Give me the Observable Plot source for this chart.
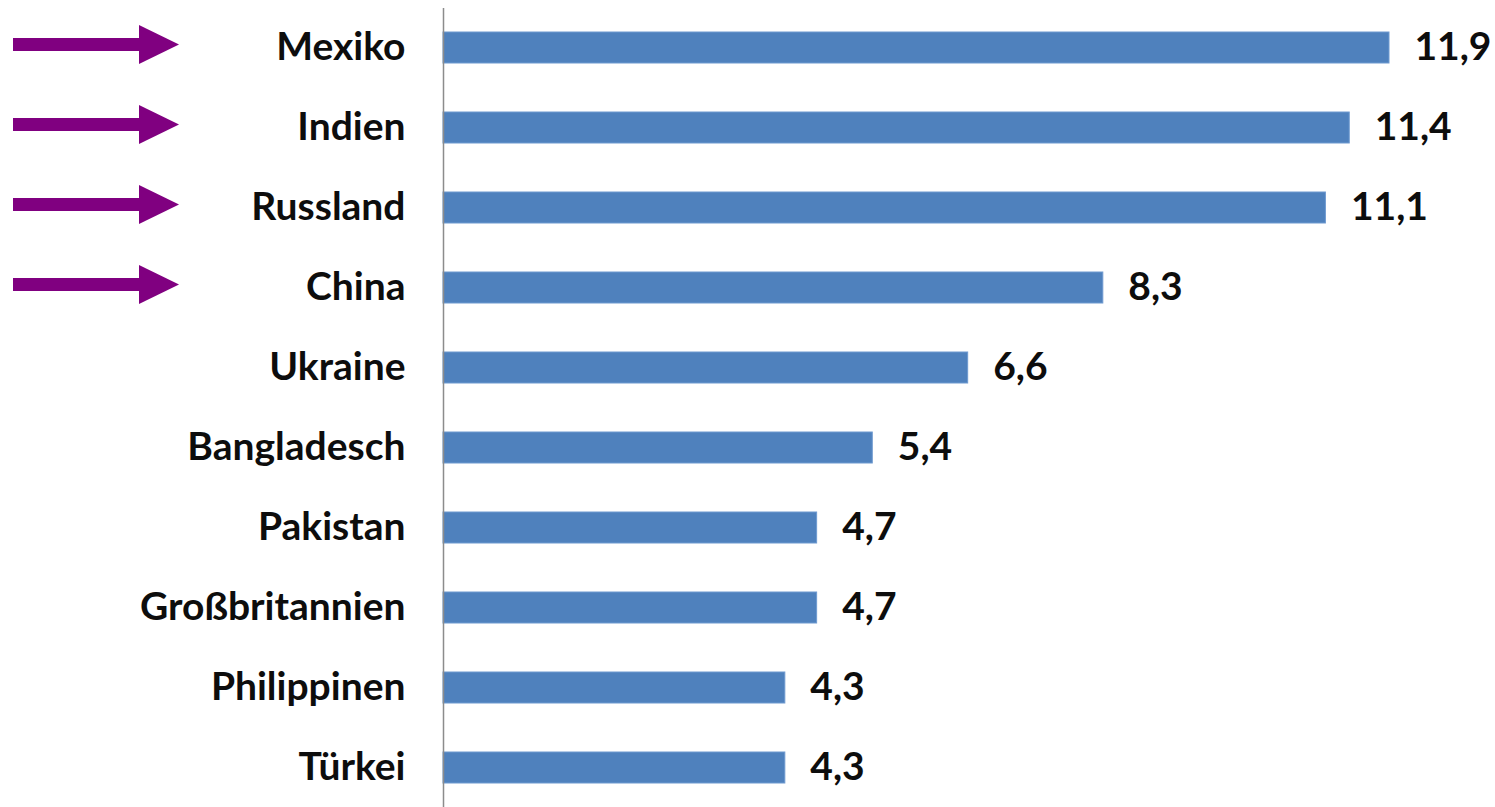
<!DOCTYPE html>
<html>
<head>
<meta charset="utf-8">
<script src="https://cdn.jsdelivr.net/npm/d3@7"></script>
<script src="https://cdn.jsdelivr.net/npm/@observablehq/plot@0.6"></script>
<style>
  html, body { margin: 0; padding: 0; background: #fff; }
  #chart svg { display: block; }
</style>
</head>
<body>
<div id="chart"></div>
<script>
const countries = ["Mexiko", "Indien", "Russland", "China", "Ukraine", "Bangladesch", "Pakistan", "Großbritannien", "Philippinen", "Türkei"];
const values = [11.9, 11.4, 11.1, 8.3, 6.6, 5.4, 4.7, 4.7, 4.3, 4.3];
const highlighted = ["Mexiko", "Indien", "Russland", "China"];

const data = countries.map((c, i) => ({country: c, value: values[i]}));
const de = d3.formatLocale({decimal: ",", thousands: ".", grouping: [3], currency: ["", " €"]});
const fmt = de.format(".1f");

const FONT = "Lato, 'Open Sans', sans-serif";

function arrows(index, scales, values, dimensions, context) {
  const g = d3.create("svg:g").attr("fill", "#800080");
  const y = scales.y;
  const bw = y.bandwidth ? y.bandwidth() : 0;
  for (const c of highlighted) {
    const cy = y(c) + bw / 2 - 3;
    g.append("rect").attr("x", 13).attr("y", cy - 6.5).attr("width", 128).attr("height", 13);
    g.append("path").attr("d", `M139,${cy - 19.5}L179,${cy}L139,${cy + 19.5}Z`);
  }
  return g.node();
}

const chart = Plot.plot({
  width: 1495,
  height: 807,
  marginLeft: 443,
  marginRight: 106,
  marginTop: 8,
  marginBottom: 0,
  style: {fontFamily: FONT, background: "#fff"},
  x: {domain: [0, 11.9], axis: null},
  y: {domain: countries, paddingInner: 0.61, paddingOuter: 0.29, axis: null},
  marks: [
    Plot.barX(data, {x: "value", y: "country", fill: "#4F81BD", stroke: "#6F9AD0", strokeWidth: 1}),
    Plot.ruleX([0], {stroke: "#8c8c8c", strokeWidth: 1.5}),
    Plot.text(countries, {y: d => d, text: d => d, frameAnchor: "left", textAnchor: "end", dx: -38,
      fontSize: 39, fontWeight: "bold", fill: "#0d0d0d"}),
    Plot.text(data, {x: "value", y: "country", text: d => fmt(d.value), textAnchor: "start", dx: 25,
      fontSize: 39, fontWeight: "bold", fill: "#0d0d0d"}),
    arrows
  ]
});
document.getElementById("chart").appendChild(chart);
</script>
</body>
</html>
